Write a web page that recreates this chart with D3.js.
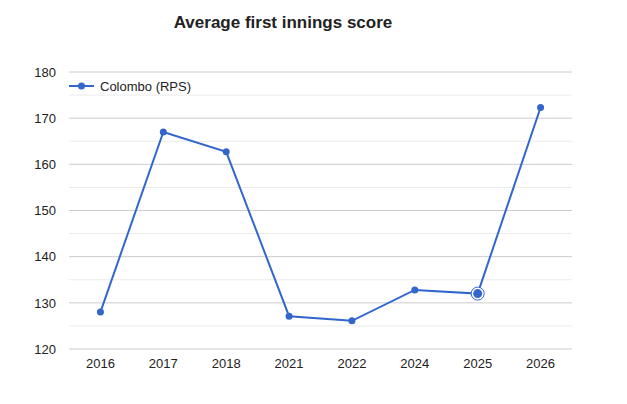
<!DOCTYPE html>
<html>
<head>
<meta charset="utf-8">
<script src="https://cdn.jsdelivr.net/npm/d3@7"></script>
<style>
  body { margin: 0; background: #fff; }
  svg { font-family: Arial, "Liberation Sans", sans-serif; }
</style>
</head>
<body>
<svg id="chart"></svg>
<script>
// chart data
const years = ["2016", "2017", "2018", "2021", "2022", "2024", "2025", "2026"];
const scores = [128.0, 167.0, 162.7, 127.1, 126.1, 132.8, 132.0, 172.3];
const yTicks = [120, 130, 140, 150, 160, 170, 180];
const seriesName = "Colombo (RPS)";
const highlightYear = "2025";

const config = {
    width: 627,
    height: 404,
    margin: {top: 72, right: 55, bottom: 55, left: 69}
};
const innerW = config.width - config.margin.left - config.margin.right;
const innerH = config.height - config.margin.top - config.margin.bottom;
const blue = "#3366cc";

const svg = d3.select("#chart")
    .attr("width", config.width)
    .attr("height", config.height);

const chart = svg.append("g")
    .attr("transform", `translate(${config.margin.left},${config.margin.top})`);

const xScale = d3.scaleBand()
    .domain(years)
    .range([0, innerW]);

const yScale = d3.scaleLinear()
    .domain([120, 180])
    .range([innerH, 0]);

// minor gridlines (every 5)
const minor = d3.range(125, 180, 10);
chart.selectAll(".minor-grid")
    .data(minor)
    .join("line")
    .attr("class", "minor-grid")
    .attr("x1", 0).attr("x2", innerW)
    .attr("y1", d => yScale(d)).attr("y2", d => yScale(d))
    .attr("stroke", "#ebebeb");

// major gridlines
chart.selectAll(".major-grid")
    .data(yTicks)
    .join("line")
    .attr("class", "major-grid")
    .attr("x1", 0).attr("x2", innerW)
    .attr("y1", d => yScale(d)).attr("y2", d => yScale(d))
    .attr("stroke", "#cccccc");

// y axis labels
const yAxis = d3.axisLeft(yScale).tickValues(yTicks).tickSize(0).tickPadding(13);
chart.append("g")
    .call(yAxis)
    .call(g => g.select(".domain").remove())
    .selectAll("text")
    .attr("font-size", 13)
    .attr("fill", "#222");

// x axis labels
const xAxis = d3.axisBottom(xScale).tickSize(0).tickPadding(10);
chart.append("g")
    .attr("transform", `translate(0,${innerH})`)
    .call(xAxis)
    .call(g => g.select(".domain").remove())
    .selectAll("text")
    .attr("font-size", 13)
    .attr("fill", "#222");

const pts = years.map((y, i) => ({year: y, value: scores[i]}));
const cx = d => xScale(d.year) + xScale.bandwidth() / 2;

const line = d3.line()
    .x(cx)
    .y(d => yScale(d.value));

chart.append("path")
    .datum(pts)
    .attr("d", line)
    .attr("fill", "none")
    .attr("stroke", blue)
    .attr("stroke-width", 2);

// highlighted point ring
const hl = pts.find(d => d.year === highlightYear);
chart.append("circle")
    .attr("cx", cx(hl)).attr("cy", yScale(hl.value))
    .attr("r", 6.5)
    .attr("fill", "#fff")
    .attr("stroke", blue)
    .attr("stroke-width", 1);

chart.selectAll(".pt")
    .data(pts)
    .join("circle")
    .attr("class", "pt")
    .attr("cx", cx)
    .attr("cy", d => yScale(d.value))
    .attr("r", d => d.year === highlightYear ? 4.5 : 3.5)
    .attr("fill", blue);

// title
svg.append("text")
    .attr("x", 283)
    .attr("y", 28)
    .attr("text-anchor", "middle")
    .attr("font-size", 17)
    .attr("font-weight", "bold")
    .attr("fill", "#222")
    .text("Average first innings score");

// legend
const legend = svg.append("g")
    .attr("transform", `translate(${config.margin.left},86)`);
legend.append("line")
    .attr("x1", 0).attr("x2", 25)
    .attr("stroke", blue).attr("stroke-width", 2);
legend.append("circle")
    .attr("cx", 12.5).attr("r", 3.5).attr("fill", blue);
legend.append("text")
    .attr("x", 31).attr("y", 5)
    .attr("font-size", 13)
    .attr("fill", "#222")
    .text(seriesName);
</script>
</body>
</html>
